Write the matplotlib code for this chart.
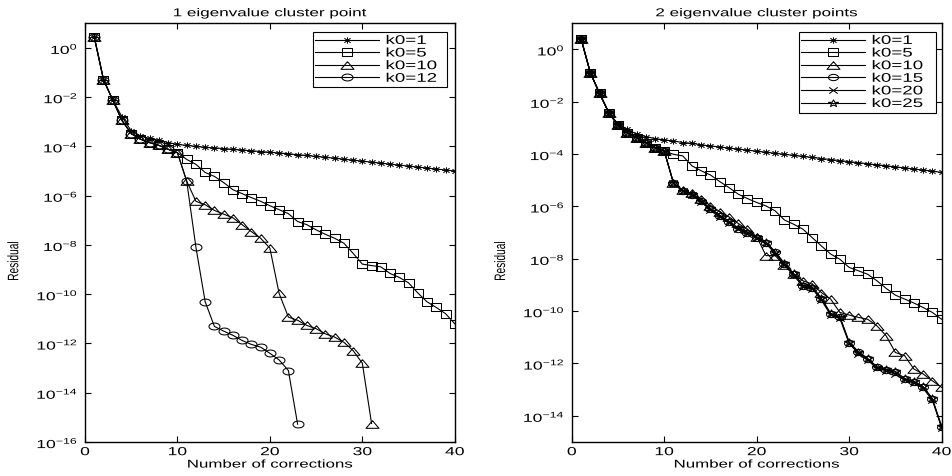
import numpy as np
import matplotlib
matplotlib.use("Agg")
import matplotlib.pyplot as plt
from matplotlib.ticker import FixedLocator, NullLocator
from matplotlib.path import Path
from matplotlib.patheffects import AbstractPathEffect
from matplotlib.transforms import Affine2D

plt.rcParams['font.family'] = ['Liberation Sans', 'DejaVu Sans']
plt.rcParams['mathtext.default'] = 'regular'

# ---------------- data (log10 of residual) ----------------
left_title = "1 eigenvalue cluster point"
right_title = "2 eigenvalue cluster points"
xlabel = "Number of corrections"
ylabel = "Residual"

left_labels = ["k0=1", "k0=5", "k0=10", "k0=12"]
left_k1 = [0.44, -1.29, -2.12, -2.80, -3.37, -3.58, -3.68, -3.75, -3.85, -3.92,
           -3.96, -4.00, -4.04, -4.06, -4.09, -4.12, -4.15, -4.18, -4.21, -4.24,
           -4.27, -4.30, -4.34, -4.37, -4.41, -4.44, -4.48, -4.52, -4.56, -4.60,
           -4.64, -4.68, -4.72, -4.76, -4.80, -4.84, -4.88, -4.92, -4.96, -5.00]
left_k5 = [0.44, -1.29, -2.12, -2.95, -3.48, -3.71, -3.85, -3.96, -4.12, -4.26,
           -4.53, -4.73, -5.06, -5.22, -5.47, -5.76, -5.92, -6.08, -6.23, -6.41,
           -6.57, -6.73, -7.05, -7.18, -7.39, -7.57, -7.73, -7.93, -8.34, -8.78,
           -8.84, -8.89, -9.16, -9.32, -9.54, -9.95, -10.31, -10.54, -10.79, -11.20]
left_k10 = [0.44, -1.29, -2.12, -2.95, -3.48, -3.71, -3.85, -3.96, -4.12, -4.26,
            -5.41, -6.23, -6.37, -6.60, -6.75, -6.90, -7.18, -7.46, -7.73, -8.13,
            -9.97, -10.93, -11.06, -11.27, -11.40, -11.61, -11.74, -11.95, -12.29, -12.80,
            -15.25]
left_k12 = [0.44, -1.29, -2.12, -2.95, -3.48, -3.71, -3.85, -3.96, -4.12, -4.26,
            -5.41, -8.10, -10.31, -11.31, -11.50, -11.67, -11.88, -12.04, -12.15, -12.40,
            -12.67, -13.10, -15.28]

right_labels = ["k0=1", "k0=5", "k0=10", "k0=15", "k0=20", "k0=25"]
right_k1 = [0.41, -0.89, -1.68, -2.42, -2.85, -3.05, -3.24, -3.33, -3.41, -3.46,
            -3.50, -3.56, -3.59, -3.65, -3.69, -3.73, -3.77, -3.81, -3.85, -3.89,
            -3.93, -3.97, -4.01, -4.05, -4.09, -4.13, -4.17, -4.21, -4.25, -4.29,
            -4.33, -4.37, -4.41, -4.45, -4.49, -4.53, -4.57, -4.61, -4.65, -4.70]
right_k5 = [0.41, -0.89, -1.68, -2.42, -2.90, -3.18, -3.37, -3.56, -3.75, -3.88,
            -4.01, -4.07, -4.45, -4.64, -4.80, -5.05, -5.28, -5.53, -5.70, -5.85,
            -5.98, -6.17, -6.52, -6.68, -6.87, -7.19, -7.51, -7.82, -8.02, -8.33,
            -8.46, -8.59, -8.84, -9.13, -9.39, -9.54, -9.69, -9.86, -10.05, -10.31]
right_k10 = [0.41, -0.89, -1.68, -2.42, -2.90, -3.18, -3.37, -3.56, -3.75, -3.88,
             -5.11, -5.38, -5.50, -5.72, -5.98, -6.20, -6.40, -6.65, -6.88, -7.15,
             -7.88, -7.88, -8.25, -8.59, -8.84, -8.97, -9.29, -9.54, -10.05, -10.15,
             -10.24, -10.31, -10.56, -10.94, -11.58, -11.70, -12.21, -12.40, -12.66, -12.91]
right_k15 = [0.41, -0.89, -1.68, -2.42, -2.90, -3.18, -3.37, -3.56, -3.75, -3.88,
             -5.11, -5.41, -5.55, -5.80, -6.10, -6.36, -6.60, -6.85, -7.00, -7.19,
             -7.38, -7.76, -8.21, -8.59, -9.03, -9.10, -9.54, -10.11, -10.24, -11.20,
             -11.58, -11.83, -12.15, -12.24, -12.34, -12.60, -12.70, -12.91, -13.36, -14.42]
right_k20 = [0.41, -0.89, -1.68, -2.42, -2.90, -3.18, -3.37, -3.56, -3.75, -3.88,
             -5.11, -5.43, -5.58, -5.84, -6.14, -6.40, -6.63, -6.88, -7.04, -7.22,
             -7.42, -7.80, -8.25, -8.63, -9.07, -9.14, -9.58, -10.15, -10.28, -11.24,
             -11.62, -11.87, -12.19, -12.28, -12.40, -12.64, -12.75, -12.95, -13.40, -14.45]
right_k25 = [0.41, -0.89, -1.68, -2.42, -2.90, -3.18, -3.37, -3.56, -3.75, -3.88,
             -5.11, -5.40, -5.53, -5.78, -6.07, -6.33, -6.57, -6.82, -6.97, -7.16,
             -7.35, -7.73, -8.18, -8.56, -9.00, -9.07, -9.50, -10.08, -10.21, -11.17,
             -11.55, -11.80, -12.12, -12.21, -12.30, -12.57, -12.67, -12.88, -13.33, -14.40]

left_series = [left_k1, left_k5, left_k10, left_k12]
right_series = [right_k1, right_k5, right_k10, right_k15, right_k20, right_k25]

xticks = [0, 10, 20, 30, 40]

# ---------------- style helpers ----------------
TSX = 1.5  # horizontal stretch of the original (stretched) rendering


def wide(verts, sx, codes=None):
    v = np.asarray(verts, float) * np.array([sx, 1.0])
    return Path(v, codes)


M, L = Path.MOVETO, Path.LINETO
t = np.linspace(0, 2 * np.pi, 41)
mk_circle = wide(np.c_[np.cos(t), np.sin(t)], 1.6)
mk_square = wide([(-1, -1), (1, -1), (1, 1), (-1, 1), (-1, -1)], 1.28)
mk_tri = wide([(0, 1), (-1, -1), (1, -1), (0, 1)], 1.7)
d = 0.72
mk_ast = wide([(-1, 0), (1, 0), (0, -1), (0, 1), (-d, -d), (d, d), (-d, d), (d, -d)],
              1.35, [M, L, M, L, M, L, M, L])
mk_x = wide([(-1, -1), (1, 1), (-1, 1), (1, -1)], 1.35, [M, L, M, L])
ang = np.pi / 2 + np.arange(10) * np.pi / 5
rad = np.where(np.arange(10) % 2 == 0, 1.0, 0.4)
sv = np.c_[rad * np.cos(ang), rad * np.sin(ang)]
mk_star = wide(np.vstack([sv, sv[:1]]), 1.4)

# (marker path, width in pixels)
left_markers = [(mk_ast, 8.5), (mk_square, 9.5), (mk_tri, 13), (mk_circle, 11)]
right_markers = [(mk_ast, 8.5), (mk_square, 9.5), (mk_tri, 13), (mk_circle, 10),
                 (mk_x, 8.5), (mk_star, 10)]


class HStretch(AbstractPathEffect):
    def __init__(self, sx=TSX, anchor='center'):
        super().__init__()
        self.sx = sx
        self.anchor = anchor

    def draw_path(self, renderer, gc, tpath, affine, rgbFace=None):
        ext = tpath.get_extents(affine)
        if self.anchor == 'left':
            x0 = ext.x0
        elif self.anchor == 'right':
            x0 = ext.x1
        else:
            x0 = 0.5 * (ext.x0 + ext.x1)
        tr = affine + Affine2D().translate(-x0, 0).scale(self.sx, 1).translate(x0, 0)
        renderer.draw_path(gc, tpath, tr, rgbFace)


# ---------------- figure ----------------
fig = plt.figure(figsize=(9.53, 4.77), dpi=100)
ax1 = fig.add_axes([0.0892, 0.0713, 0.388, 0.878])
ax2 = fig.add_axes([0.600, 0.0713, 0.388, 0.878])


def draw(ax, series, labels, markers, title, ymin_exp, ytick_exps, leg_x0, leg_x1):
    for vals, lab, (mk, wpx) in zip(series, labels, markers):
        x = np.arange(1, len(vals) + 1)
        y = np.power(10.0, np.array(vals))
        ax.semilogy(x, y, color='black', linewidth=0.8, marker=mk,
                    markersize=wpx * 0.72, markerfacecolor='none',
                    markeredgecolor='black', markeredgewidth=0.75, label=lab)
    ax.set_xlim(0, 40)
    ax.set_ylim(10.0 ** ymin_exp, 10.0 ** 1)
    ax.xaxis.set_major_locator(FixedLocator(xticks))
    ax.yaxis.set_major_locator(FixedLocator([10.0 ** e for e in ytick_exps]))
    ax.yaxis.set_minor_locator(NullLocator())
    ax.tick_params(direction='in', top=True, right=True, length=4, width=0.8,
                   labelsize=8.4)
    ax.tick_params(axis='y', pad=5)
    ax.tick_params(axis='x', pad=3)
    for s in ax.spines.values():
        s.set_linewidth(1.0)
    ttl = ax.set_title(title, fontsize=8.2, pad=5)
    xl = ax.set_xlabel(xlabel, fontsize=8.1, labelpad=1)
    yl = ax.set_ylabel(ylabel, fontsize=7.3)
    ax.yaxis.set_label_coords(-0.18, 0.432)
    for txt in (ttl, xl, yl):
        txt.set_path_effects([HStretch(TSX, 'center')])
    for lbl in ax.get_xticklabels():
        lbl.set_path_effects([HStretch(TSX, 'center')])
    for lbl in ax.get_yticklabels():
        lbl.set_path_effects([HStretch(TSX, 'right')])
    leg = ax.legend(loc='upper left', bbox_to_anchor=(leg_x0, 0, leg_x1 - leg_x0, 0.978),
                    mode='expand', fontsize=9, handlelength=5.1,
                    labelspacing=0.05, borderpad=0.2, handletextpad=0.55,
                    borderaxespad=0.0, fancybox=False, framealpha=1,
                    edgecolor='black', numpoints=1)
    leg.get_frame().set_linewidth(0.8)
    for txt in leg.get_texts():
        txt.set_path_effects([HStretch(TSX, 'left')])


draw(ax1, left_series, left_labels, left_markers, left_title, -16,
     list(range(0, -17, -2)), 0.616, 0.978)
draw(ax2, right_series, right_labels, right_markers, right_title, -15,
     list(range(0, -15, -2)), 0.614, 0.986)

fig.savefig("out.png", dpi=100)
